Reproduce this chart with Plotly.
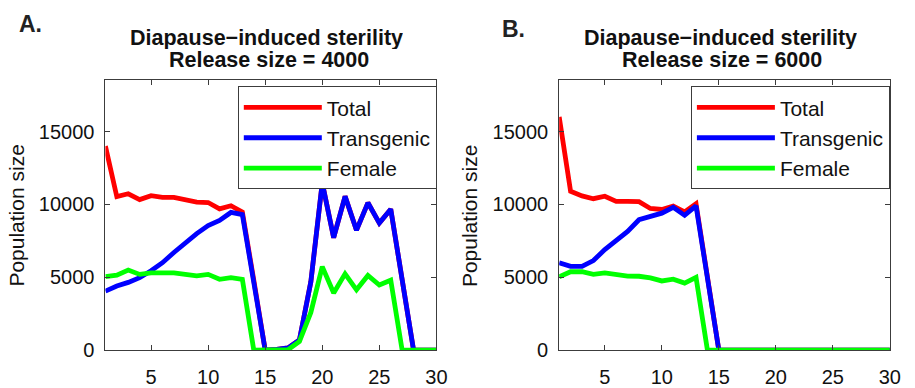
import plotly.graph_objects as go

W, H = 915, 388

weeks = list(range(1, 31))

# Panel A: release size = 4000
total_4000 = [14000, 10530, 10730, 10330, 10600, 10480, 10480, 10350, 10150, 10130,
              9690, 9910, 9470, 4800, 0, 50, 150, 700, 4690, 11480,
              7720, 10550, 8230, 10110, 8720, 9670, 4800, 0, 0, 0]
transgenic_4000 = [4050, 4400, 4650, 4970, 5450, 6000, 6700, 7400, 8000, 8550,
                   8900, 9450, 9300, 4650, 0, 50, 150, 700, 4690, 11480,
                   7720, 10550, 8230, 10110, 8720, 9670, 4800, 0, 0, 0]
female_4000 = [5050, 5150, 5500, 5200, 5300, 5300, 5300, 5200, 5100, 5200,
               4860, 4970, 4860, 0, 0, 0, 30, 600, 2590, 5730,
               3920, 5240, 4140, 5130, 4470, 4800, 0, 0, 0, 0]

# Panel B: release size = 6000
total_6000 = [16000, 10900, 10580, 10390, 10560, 10210, 10210, 10190, 9720, 9650,
              9880, 9480, 10050, 5050, 0, 0, 0, 0, 0, 0,
              0, 0, 0, 0, 0, 0, 0, 0, 0, 0]
transgenic_6000 = [6000, 5750, 5750, 6150, 6900, 7500, 8150, 8950, 9150, 9400,
                   9800, 9250, 9900, 4950, 0, 0, 0, 0, 0, 0,
                   0, 0, 0, 0, 0, 0, 0, 0, 0, 0]
female_6000 = [5030, 5380, 5380, 5200, 5300, 5200, 5080, 5070, 4960, 4750,
               4870, 4600, 5000, 0, 0, 0, 0, 0, 0, 0,
               0, 0, 0, 0, 0, 0, 0, 0, 0, 0]

series_names = ["Total", "Transgenic", "Female"]
series_colors = ["#ff0000", "#0000ff", "#00ff00"]
x_ticks = [5, 10, 15, 20, 25, 30]
y_ticks = [0, 5000, 10000, 15000]
y_tick_labels = ["0", "5000", "10000", "15000"]
panel_letters = ["A.", "B."]
title_line1 = "Diapause\u2212induced sterility"
title_line2 = ["Release size = 4000", "Release size = 6000"]
y_title = "Population size"

FONT = "Liberation Sans, Arial, Helvetica, sans-serif"

fig = go.Figure()

panels = [
    (total_4000, transgenic_4000, female_4000, "x", "y", "legend"),
    (total_6000, transgenic_6000, female_6000, "x2", "y2", "legend2"),
]
for p, (tot, tra, fem, xa, ya, lg) in enumerate(panels):
    for name, vals, col in zip(series_names, [tot, tra, fem], series_colors):
        fig.add_trace(go.Scatter(
            x=weeks, y=vals, mode="lines", name=name,
            line=dict(color=col, width=4.8),
            xaxis=xa, yaxis=ya, legend=lg, legendgroup=f"{lg}_{name}",
            showlegend=True,
        ))

px = lambda v: v / W
py = lambda v: 1 - v / H

axis_common = dict(
    showline=True, mirror="ticks", linecolor="#3c3c3c", linewidth=1,
    ticks="inside", ticklen=5, tickcolor="#3c3c3c", tickwidth=1,
    showgrid=False, zeroline=False,
    tickfont=dict(family=FONT, size=20, color="#111111"),
)

x_domains = [[px(106.7), px(441.7)], [px(566), px(900.7)]]
y_domain = [py(362.3), py(82.7)]

for i, dom in enumerate(x_domains):
    sfx = "" if i == 0 else "2"
    fig.layout["xaxis" + sfx] = dict(
        axis_common, domain=dom, range=[1, 30], tickvals=x_ticks,
        anchor="y" + sfx, ticklabelstandoff=9,
    )
    fig.layout["yaxis" + sfx] = dict(
        axis_common, domain=y_domain, range=[0, 18540], tickvals=y_ticks,
        ticktext=y_tick_labels, anchor="x" + sfx, ticklabelstandoff=6,
    )

legend_common = dict(
    xanchor="left", yanchor="top", bgcolor="white",
    bordercolor="#3c3c3c", borderwidth=1,
    font=dict(family=FONT, size=21, color="#111111"),
    itemwidth=78, traceorder="grouped", tracegroupgap=0,
)
fig.layout.legend = dict(legend_common, x=px(240.7), y=py(89.3))
fig.layout.legend2 = dict(legend_common, x=px(699.3), y=py(89.3))

annotations = []
title_centers = [270, 729]
letter_pos = [(31, 25), (520, 29.5)]
ytitle_x = [17, 476]
for i in range(2):
    annotations.append(dict(
        text=f"<b>{title_line1}</b>", x=px(title_centers[i]), y=py(38.3),
        xref="paper", yref="paper", xanchor="center", yanchor="middle",
        height=23, valign="middle",
        showarrow=False, font=dict(family=FONT, size=21.5, color="#111111"),
    ))
    annotations.append(dict(
        text=f"<b>{title_line2[i]}</b>", x=px(title_centers[i] + 2), y=py(61.7),
        xref="paper", yref="paper", xanchor="center", yanchor="middle",
        height=23, valign="middle",
        showarrow=False, font=dict(family=FONT, size=21.5, color="#111111"),
    ))
    annotations.append(dict(
        text=f"<b>{panel_letters[i]}</b>", x=px(letter_pos[i][0]), y=py(letter_pos[i][1]),
        xref="paper", yref="paper", xanchor="center", yanchor="middle",
        showarrow=False, font=dict(family=FONT, size=23, color="#222222"),
    ))
    annotations.append(dict(
        text=y_title, x=px(ytitle_x[i]), y=py(223.3), textangle=-90,
        xref="paper", yref="paper", xanchor="center", yanchor="middle",
        showarrow=False, font=dict(family=FONT, size=21, color="#111111"),
    ))

fig.update_layout(
    width=W, height=H, margin=dict(l=0, r=0, t=0, b=0, pad=0),
    paper_bgcolor="white", plot_bgcolor="white",
    annotations=annotations, showlegend=True,
)

fig.write_html("out.html")
